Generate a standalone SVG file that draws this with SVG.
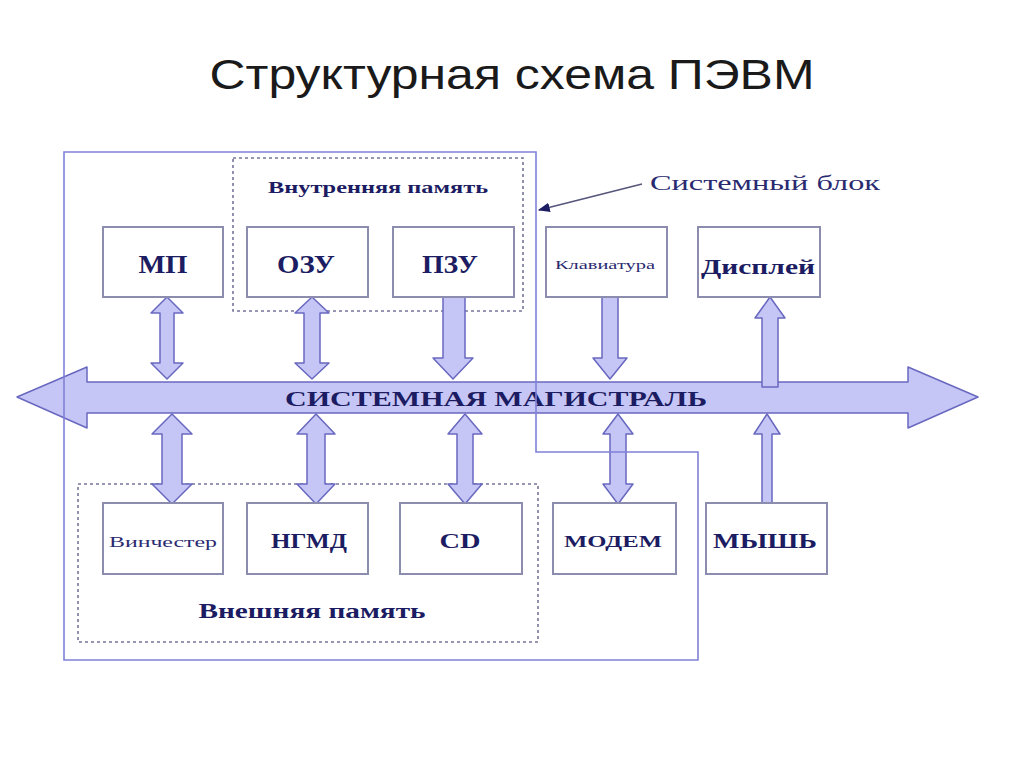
<svg xmlns="http://www.w3.org/2000/svg" width="1024" height="767" viewBox="0 0 1024 767">
<defs>
<style>
.box{fill:#ffffff;stroke:#8c8cae;stroke-width:2}
.dash{fill:none;stroke:#76769a;stroke-width:1.6;stroke-dasharray:3 3}
.arr{fill:#c6c6f6;stroke:#6868c0;stroke-width:1.5;stroke-linejoin:round}
.lbl{font-family:"Liberation Serif",serif;font-weight:bold;fill:#1c1c62;text-anchor:middle}
.thin{font-family:"Liberation Serif",serif;fill:#2a2a70;text-anchor:middle}
.sys{fill:none;stroke:#8080d8;stroke-width:1.6}
</style>
<marker id="ah" viewBox="0 0 10 10" refX="9" refY="5" markerWidth="8" markerHeight="8" orient="auto">
<path d="M0,1 L10,5 L0,9 Z" fill="#1c1c62"/>
</marker>
</defs>
<rect width="1024" height="767" fill="#ffffff"/>
<text x="512" y="89" font-family="'Liberation Sans','Open Sans',sans-serif" font-size="43" fill="#1a1a1a" text-anchor="middle" textLength="605" lengthAdjust="spacingAndGlyphs">Структурная схема ПЭВМ</text>

<g id="internal-memory">
<rect class="dash" x="233" y="158" width="290" height="153"/>
<text class="lbl" x="378" y="193" font-size="16" textLength="220" lengthAdjust="spacingAndGlyphs">Внутренняя память</text>
</g>
<g id="external-memory">
<rect class="dash" x="78" y="484" width="460" height="158"/>
<text class="lbl" x="312" y="618" font-size="21" textLength="227" lengthAdjust="spacingAndGlyphs">Внешняя память</text>
</g>

<g id="connectors">
<polygon id="bus" class="arr" points="17,397 87,367 87,382 908,382 908,367 978,397 908,428 908,413 87,413 87,428"/>
<text class="lbl" x="496" y="406" font-size="21" textLength="422" lengthAdjust="spacingAndGlyphs">СИСТЕМНАЯ МАГИСТРАЛЬ</text>
<polygon class="arr" points="167,297 183,313 174,313 174,363 183,363 167,379 151,363 160,363 160,313 151,313"/>
<polygon class="arr" points="312,297 329,313 320,313 320,363 329,363 312,379 295,363 304,363 304,313 295,313"/>
<polygon class="arr" points="443,297 465,297 465,358 473,358 453,379 433,358 443,358"/>
<polygon class="arr" points="602,297 618,297 618,358 627,358 610,379 593,358 602,358"/>
<polygon class="arr" points="770,297 785,318 778,318 778,387 762,387 762,318 755,318"/>
<polygon class="arr" points="172,414 192,434 182,434 182,484 192,484 172,504 152,484 162,484 162,434 152,434"/>
<polygon class="arr" points="316,414 335,434 325,434 325,484 335,484 316,504 297,484 307,484 307,434 297,434"/>
<polygon class="arr" points="465,414 482,434 473,434 473,484 482,484 465,504 448,484 457,484 457,434 448,434"/>
<polygon class="arr" points="618,414 633,434 626,434 626,484 633,484 618,504 603,484 610,484 610,434 603,434"/>
<polygon class="arr" points="767,414 780,434 772,434 772,505 762,505 762,434 754,434"/>
<line x1="642" y1="184" x2="539" y2="210" stroke="#55557a" stroke-width="1.5" marker-end="url(#ah)"/>
</g>

<g id="system-block">
<path class="sys" d="M64,152 H536 V452 H698 V660 H64 Z"/>
<text class="thin" x="765" y="190" font-size="21" textLength="230" lengthAdjust="spacingAndGlyphs">Системный блок</text>
</g>

<g id="mp"><rect class="box" x="103" y="227" width="120" height="70"/><text class="lbl" x="163" y="273" font-size="25" textLength="49" lengthAdjust="spacingAndGlyphs">МП</text></g>
<g id="ozu"><rect class="box" x="247" y="227" width="121" height="70"/><text class="lbl" x="306" y="273" font-size="25" textLength="58" lengthAdjust="spacingAndGlyphs">ОЗУ</text></g>
<g id="pzu"><rect class="box" x="393" y="227" width="121" height="70"/><text class="lbl" x="450" y="273" font-size="25" textLength="56" lengthAdjust="spacingAndGlyphs">ПЗУ</text></g>
<g id="keyboard"><rect class="box" x="546" y="227" width="121" height="70"/><text class="thin" x="605" y="269" font-size="12" textLength="100" lengthAdjust="spacingAndGlyphs">Клавиатура</text></g>
<g id="display"><rect class="box" x="698" y="227" width="122" height="70"/><text class="lbl" x="758" y="274" font-size="22" textLength="114" lengthAdjust="spacingAndGlyphs">Дисплей</text></g>
<g id="hdd"><rect class="box" x="103" y="503" width="120" height="71"/><text class="thin" x="163" y="547" font-size="14" textLength="108" lengthAdjust="spacingAndGlyphs">Винчестер</text></g>
<g id="fdd"><rect class="box" x="247" y="503" width="121" height="71"/><text class="lbl" x="309" y="548" font-size="20" textLength="76" lengthAdjust="spacingAndGlyphs">НГМД</text></g>
<g id="cd"><rect class="box" x="400" y="503" width="122" height="71"/><text class="lbl" x="460" y="548" font-size="21" textLength="41" lengthAdjust="spacingAndGlyphs">CD</text></g>
<g id="modem"><rect class="box" x="553" y="503" width="123" height="71"/><text class="lbl" x="613" y="547" font-size="17" textLength="98" lengthAdjust="spacingAndGlyphs">МОДЕМ</text></g>
<g id="mouse"><rect class="box" x="706" y="503" width="121" height="71"/><text class="lbl" x="765" y="548" font-size="21" textLength="104" lengthAdjust="spacingAndGlyphs">МЫШЬ</text></g>
</svg>
